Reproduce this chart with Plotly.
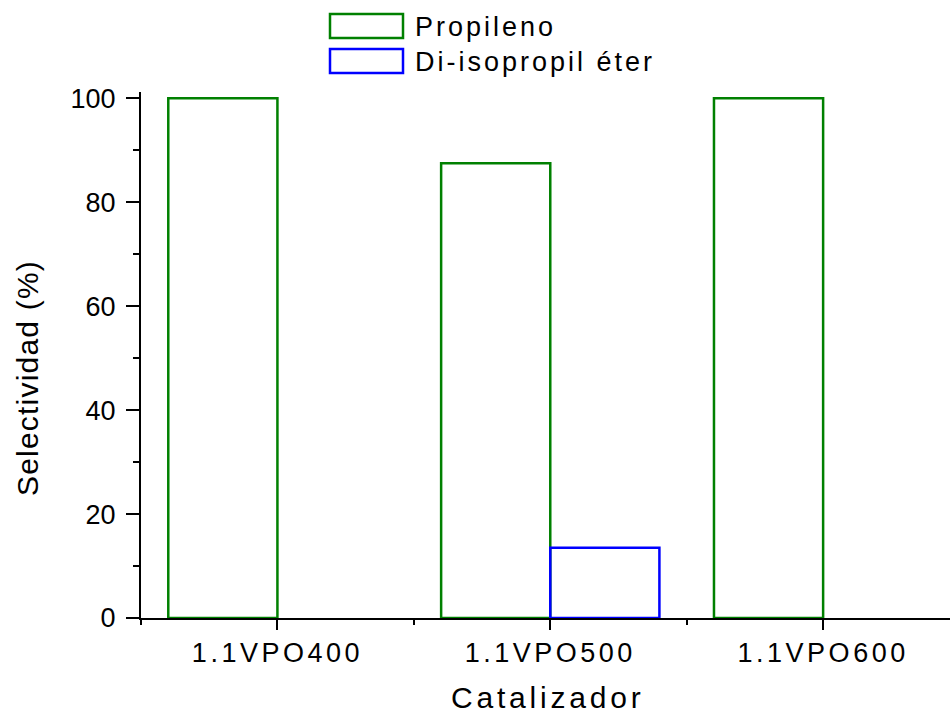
import plotly.graph_objects as go

# ---- data ----
categories = ["1.1VPO400", "1.1VPO500", "1.1VPO600"]
series_names = ["Propileno", "Di-isopropil éter"]
propileno = [100, 87.5, 100]
di_isopropil_eter = [0, 13.5, 0]
y_tick_values = [0, 20, 40, 60, 80, 100]
x_title = "Catalizador"
y_title = "Selectividad (%)"

colors = ["#008000", "#0000FF"]
FONT = "Liberation Sans, Arial, sans-serif"


def spaced(text, px):
    return f'<span style="letter-spacing:{px}px">{text}</span>'


W, H = 950, 715
L, R, T, B = 141, 0, 92, 97
pw, ph = W - L - R, H - T - B


def px_x(x):
    return (x - L) / pw


def px_y(y):
    return (H - B - y) / ph


x_idx = list(range(len(categories)))

fig = go.Figure()
for name, vals, col in zip(series_names, [propileno, di_isopropil_eter], colors):
    fig.add_trace(go.Bar(
        x=x_idx, y=vals, name=name,
        marker=dict(color="rgba(0,0,0,0)",
                    line=dict(color=col, width=[2.5 if v else 0 for v in vals])),
        showlegend=False,
    ))

# custom legend (large outlined rectangles like the original)
legend_rows = [(14, 38), (49, 73)]
for (y0, y1), name, col in zip(legend_rows, series_names, colors):
    fig.add_shape(type="rect", xref="paper", yref="paper",
                  x0=px_x(330), x1=px_x(403), y0=px_y(y1), y1=px_y(y0),
                  line=dict(color=col, width=2.5), fillcolor="rgba(0,0,0,0)")
    fig.add_annotation(xref="paper", yref="paper", x=px_x(413), y=px_y((y0 + y1) / 2 + 1),
                       xanchor="left", yanchor="middle", showarrow=False,
                       text=spaced(name, 3), font=dict(family=FONT, size=27, color="black"))

# axis titles
fig.add_annotation(xref="paper", yref="paper", x=px_x(548), y=px_y(697),
                   xanchor="center", yanchor="middle", showarrow=False, borderpad=0,
                   text=spaced(x_title, 3.8), font=dict(family=FONT, size=30, color="black"))
fig.add_annotation(xref="paper", yref="paper", x=px_x(27), y=px_y(378),
                   xanchor="center", yanchor="middle", showarrow=False, textangle=-90,
                   text=spaced(y_title, 1.2), font=dict(family=FONT, size=30, color="black"))

fig.update_layout(
    width=W, height=H,
    margin=dict(l=L, r=R, t=T, b=B, pad=0),
    paper_bgcolor="white", plot_bgcolor="white",
    barmode="group", bargap=0.2, bargroupgap=0,
    showlegend=False,
    font=dict(family=FONT, color="black"),
)
fig.update_xaxes(
    range=[-0.5, 2.465], tickmode="array", tickvals=x_idx,
    ticktext=[spaced(c, 3.5) for c in categories],
    tickfont=dict(family=FONT, size=27, color="black"),
    showline=True, linecolor="black", linewidth=2,
    ticks="outside", ticklen=10, tickwidth=2, tickcolor="black",
    minor=dict(tick0=-0.5, dtick=1, ticks="outside", ticklen=5, tickwidth=2, tickcolor="black"),
    showgrid=False, zeroline=False, fixedrange=True,
)
fig.update_yaxes(
    range=[0, 101.2], tickmode="array", tickvals=y_tick_values,
    tickfont=dict(family=FONT, size=27, color="black"),
    showline=True, linecolor="black", linewidth=2,
    ticks="outside", ticklen=13, tickwidth=2, tickcolor="black",
    ticklabelstandoff=5,
    minor=dict(tick0=0, dtick=10, ticks="outside", ticklen=6, tickwidth=2, tickcolor="black"),
    showgrid=False, zeroline=False, fixedrange=True,
)

fig.write_html("out.html")
